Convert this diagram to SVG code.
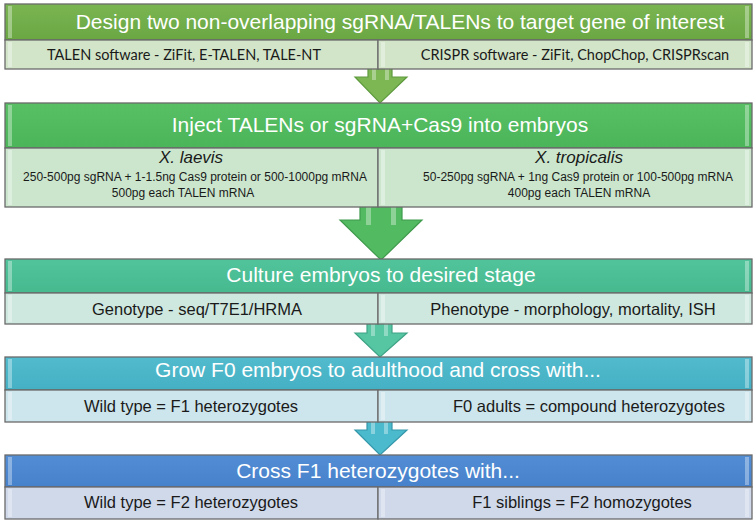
<svg xmlns="http://www.w3.org/2000/svg" width="754" height="524" viewBox="0 0 754 524">
<defs>
<style>
.hd{font-family:"Liberation Sans",Arial,sans-serif;font-size:21px;fill:#ffffff;text-anchor:middle}
.sb{font-family:"Liberation Sans",Arial,sans-serif;font-size:16.5px;fill:#1a1a1a;text-anchor:middle}
.sm{font-family:"Liberation Sans",Arial,sans-serif;font-size:12px;fill:#1a1a1a;text-anchor:middle}
.it{font-family:"Liberation Sans",Arial,sans-serif;font-size:17px;font-style:italic;fill:#1a1a1a;text-anchor:middle}
.my{font-family:Lato,"Open Sans",sans-serif;font-size:14.5px;fill:#1a1a1a;text-anchor:middle}
.bx{stroke:#6a6a6a;stroke-width:1.3}
.hl{fill:#ffffff;opacity:0.35}
.ar{stroke-width:1.2;stroke-linejoin:miter}
</style>
<linearGradient id="g1" x1="0" y1="0" x2="0" y2="1"><stop offset="0" stop-color="#7ab552"/><stop offset="1" stop-color="#6aa743"/></linearGradient>
<linearGradient id="g2" x1="0" y1="0" x2="0" y2="1"><stop offset="0" stop-color="#58bf64"/><stop offset="1" stop-color="#4bb55a"/></linearGradient>
<linearGradient id="g3" x1="0" y1="0" x2="0" y2="1"><stop offset="0" stop-color="#52c49c"/><stop offset="1" stop-color="#46b98f"/></linearGradient>
<linearGradient id="g4" x1="0" y1="0" x2="0" y2="1"><stop offset="0" stop-color="#52bbcd"/><stop offset="1" stop-color="#45b0c4"/></linearGradient>
<linearGradient id="g5" x1="0" y1="0" x2="0" y2="1"><stop offset="0" stop-color="#528dd4"/><stop offset="1" stop-color="#4681cb"/></linearGradient>
</defs>
<rect width="754" height="524" fill="#ffffff"/>

<g id="connectors">
<g id="arrow1">
<polygon class="ar" points="368,66 392,66 392,77 407,77 380,103 355,77 368,77" fill="#7db754" stroke="#5e9a3e"/>
<rect x="372" y="68" width="4" height="12" class="hl"/><rect x="385" y="68" width="4" height="12" class="hl"/>
</g>
<g id="arrow2">
<polygon class="ar" points="360,205 402,205 402,220 422,220 381,260 340,220 360,220" fill="#52ba61" stroke="#3f9a4c"/>
<rect x="366" y="207" width="5" height="18" class="hl"/><rect x="391" y="207" width="5" height="18" class="hl"/>
</g>
<g id="arrow3">
<polygon class="ar" points="367,322 392,322 392,333 407,333 380,357 355,333 367,333" fill="#55c5a2" stroke="#3ea385"/>
<rect x="371" y="324" width="4" height="12" class="hl"/><rect x="384" y="324" width="4" height="12" class="hl"/>
</g>
<g id="arrow4">
<polygon class="ar" points="367,420 392,420 392,430 407,430 380,455 355,430 367,430" fill="#4cbacd" stroke="#3597aa"/>
<rect x="371" y="422" width="4" height="12" class="hl"/><rect x="384" y="422" width="4" height="12" class="hl"/>
</g>
</g>

<g id="node1">
<rect class="bx" x="5" y="4" width="747" height="36" fill="url(#g1)"/>
<rect x="8" y="6" width="4" height="32" class="hl"/><rect x="745" y="6" width="4" height="32" class="hl"/>
<rect class="bx" x="5" y="40" width="373" height="29" fill="#d3e5c9"/>
<rect class="bx" x="378" y="40" width="374" height="29" fill="#d3e5c9"/>
<rect x="8" y="42" width="4" height="25" class="hl"/><rect x="381" y="42" width="4" height="25" class="hl"/><rect x="745" y="42" width="4" height="25" class="hl"/>
<text class="hd" x="400" y="29">Design two non-overlapping sgRNA/TALENs to target gene of interest</text>
<text class="my" x="184" y="60">TALEN software - ZiFit, E-TALEN, TALE-NT</text>
<text class="my" x="575" y="60">CRISPR software - ZiFit, ChopChop, CRISPRscan</text>
</g>

<g id="node2">
<rect class="bx" x="5" y="103" width="747" height="45" fill="url(#g2)"/>
<rect x="8" y="105" width="4" height="41" class="hl"/><rect x="745" y="105" width="4" height="41" class="hl"/>
<rect class="bx" x="5" y="148" width="373" height="59" fill="#cbe6cd"/>
<rect class="bx" x="378" y="148" width="374" height="59" fill="#cbe6cd"/>
<rect x="8" y="150" width="4" height="55" class="hl"/><rect x="381" y="150" width="4" height="55" class="hl"/><rect x="745" y="150" width="4" height="55" class="hl"/>
<text class="hd" x="380" y="132">Inject TALENs or sgRNA+Cas9 into embryos</text>
<text class="it" x="191" y="163">X. laevis</text>
<text class="sm" x="195" y="181">250-500pg sgRNA + 1-1.5ng Cas9 protein or 500-1000pg mRNA</text>
<text class="sm" x="183" y="197">500pg each TALEN mRNA</text>
<text class="it" x="579" y="163">X. tropicalis</text>
<text class="sm" x="578" y="181">50-250pg sgRNA + 1ng Cas9 protein or 100-500pg mRNA</text>
<text class="sm" x="579" y="197">400pg each TALEN mRNA</text>
</g>

<g id="node3">
<rect class="bx" x="5" y="259" width="747" height="34" fill="url(#g3)"/>
<rect x="8" y="261" width="4" height="30" class="hl"/><rect x="745" y="261" width="4" height="30" class="hl"/>
<rect class="bx" x="5" y="293" width="373" height="31" fill="#cee8df"/>
<rect class="bx" x="378" y="293" width="374" height="31" fill="#cee8df"/>
<rect x="8" y="295" width="4" height="27" class="hl"/><rect x="381" y="295" width="4" height="27" class="hl"/><rect x="745" y="295" width="4" height="27" class="hl"/>
<text class="hd" x="381" y="282">Culture embryos to desired stage</text>
<text class="sb" x="197" y="315">Genotype - seq/T7E1/HRMA</text>
<text class="sb" x="573" y="315">Phenotype - morphology, mortality, ISH</text>
</g>

<g id="node4">
<rect class="bx" x="5" y="357" width="747" height="33" fill="url(#g4)"/>
<rect x="8" y="359" width="4" height="29" class="hl"/><rect x="745" y="359" width="4" height="29" class="hl"/>
<rect class="bx" x="5" y="390" width="373" height="32" fill="#cde5ec"/>
<rect class="bx" x="378" y="390" width="374" height="32" fill="#cde5ec"/>
<rect x="8" y="392" width="4" height="28" class="hl"/><rect x="381" y="392" width="4" height="28" class="hl"/><rect x="745" y="392" width="4" height="28" class="hl"/>
<text class="hd" x="378" y="377">Grow F0 embryos to adulthood and cross with...</text>
<text class="sb" x="191" y="412">Wild type = F1 heterozygotes</text>
<text class="sb" x="589" y="412">F0 adults = compound heterozygotes</text>
</g>

<g id="node5">
<rect class="bx" x="5" y="455" width="747" height="32" fill="url(#g5)"/>
<rect x="8" y="457" width="4" height="28" class="hl"/><rect x="745" y="457" width="4" height="28" class="hl"/>
<rect class="bx" x="5" y="487" width="373" height="32" fill="#cfd9ea"/>
<rect class="bx" x="378" y="487" width="374" height="32" fill="#cfd9ea"/>
<rect x="8" y="489" width="4" height="28" class="hl"/><rect x="381" y="489" width="4" height="28" class="hl"/><rect x="745" y="489" width="4" height="28" class="hl"/>
<text class="hd" x="378" y="478">Cross F1 heterozygotes with...</text>
<text class="sb" x="191" y="508">Wild type = F2 heterozygotes</text>
<text class="sb" x="582" y="508">F1 siblings = F2 homozygotes</text>
</g>
</svg>
